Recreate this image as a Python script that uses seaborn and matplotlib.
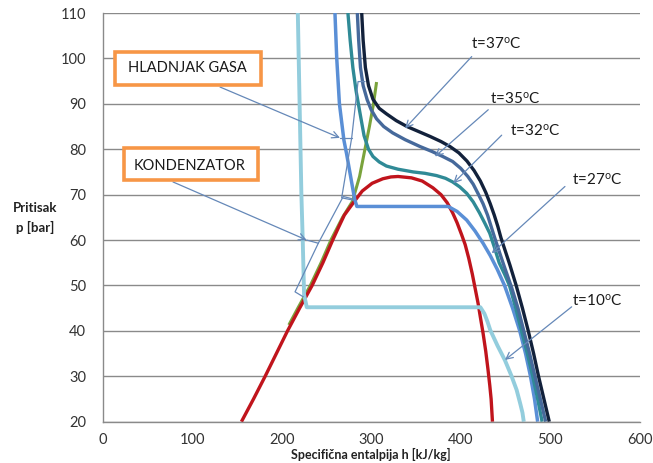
import matplotlib
matplotlib.use("Agg")
import matplotlib.pyplot as plt
import seaborn as sns
import pandas as pd
from matplotlib.patches import Rectangle

# ---------------- data ----------------
dome_h = [155, 168.5, 181.5, 194, 206.5, 220, 234, 246, 257, 264, 270, 277, 283, 290, 301, 313, 322, 330,
          345, 357, 369, 378, 385, 391, 396, 401, 405, 409, 413, 416.5, 419.5, 422, 425, 428, 430.5,
          432.5, 434, 435.5]
dome_p = [20, 25, 30, 35, 40, 45, 50, 55, 60, 63, 65.5, 67.4, 69, 70.8, 72.5, 73.5, 73.9, 74,
          73.7, 73, 71.5, 70, 68.2, 66, 63.8, 61.2, 59, 56, 52.5, 49, 46, 43, 39.5, 35.5, 31.5,
          28, 25, 20]

t10_h = [218, 219, 220, 221, 222, 223.5, 225, 228, 300, 380, 422, 426.5, 430, 433, 441, 449.5,
         456.5, 462.5, 466.5, 469, 470.5]
t10_p = [110, 100, 90, 80, 70, 60, 48, 45.2, 45.2, 45.2, 45.2, 43.8, 42, 40.2, 36.8, 33.5,
         30.2, 27, 24, 22, 20]

t27_h = [259.5, 261.5, 264.5, 269.5, 272.5, 277, 281.5, 284, 330, 386, 396, 406.7, 416, 425,
         433, 441, 449, 458, 466, 472.5, 478, 482.5, 486]
t27_p = [110, 100, 90, 82, 79, 74, 69, 67.4, 67.4, 67.4, 66.3, 64.4, 62, 59.3,
         56.6, 53.5, 50, 45, 40, 35, 30, 25, 20]

t32_h = [274, 276.5, 279.5, 283, 287, 292, 297, 302, 309, 317, 330, 347, 360, 373, 383, 391, 399,
         406.7, 414, 421, 427, 432.5, 437.5, 443, 449, 454.5, 461.5, 468, 474.5, 480.5, 486, 491]
t32_p = [110, 104, 98, 93, 88.5, 83, 80, 78.4, 77.2, 76.3, 75.6, 75, 74.7, 74.2, 73.6, 72.8, 71.7,
         70.3, 68.4, 66, 63.7, 61.5, 58.5, 55, 52.5, 50, 45, 40, 35, 30, 25, 20]

t35_h = [284.5, 286, 288, 291, 295.5, 300, 306, 314, 324, 338, 354.5, 368, 380, 391, 400, 408,
         414, 420, 425, 430, 434, 438, 443, 449, 457, 464, 470.5, 477, 483, 489, 495]
t35_p = [110, 104, 98, 94, 90.9, 88.7, 86.7, 85, 83.6, 82.1, 80.6, 79.5, 78.4, 77.3, 75.8, 74,
         72.3, 70, 68, 65.5, 63, 60.5, 57.5, 54, 49.5, 45, 40, 35, 30, 25, 20]

t37_h = [289.4, 291, 293.5, 297, 302, 309, 317, 328, 340, 353, 366, 378, 388, 398, 407, 415,
         422, 428, 433, 437.5, 441.5, 445, 450, 455, 462, 469, 475.5, 481.5, 487, 493, 499]
t37_p = [110, 104, 98, 94, 91, 89, 87.8, 86.3, 85, 83.9, 82.8, 81.7, 80.6, 79.2, 77.4, 75.3,
         73, 70.5, 68, 65.5, 63, 60.5, 57.5, 54.5, 50, 45, 40, 35, 30, 25, 20]

green_h = [208, 218, 232, 244, 255, 268, 279, 287, 293, 298, 302.4, 306]
green_p = [41.3, 45, 50, 55, 60, 65, 68.5, 74, 80, 85, 89.8, 94.8]

x_ticks = [0, 100, 200, 300, 400, 500, 600]
y_ticks = [20, 30, 40, 50, 60, 70, 80, 90, 100, 110]

temp_labels = ["t=37$^{\\mathrm{o}}$C", "t=35$^{\\mathrm{o}}$C", "t=32$^{\\mathrm{o}}$C",
               "t=27$^{\\mathrm{o}}$C", "t=10$^{\\mathrm{o}}$C"]
box_labels = ["HLADNJAK GASA", "KONDENZATOR"]

# ---------------- style ----------------
sns.set_theme(style="white")
plt.rcParams['font.family'] = ['Lato', 'DejaVu Sans']
plt.rcParams['mathtext.fontset'] = 'custom'
plt.rcParams['mathtext.rm'] = 'Lato'
plt.rcParams['mathtext.it'] = 'Lato:italic'
plt.rcParams['mathtext.bf'] = 'Lato:bold'

fig = plt.figure(figsize=(6.53, 4.63), dpi=100)
ax = fig.add_axes([0.1573, 0.0892, 0.8223, 0.8827])

series = [
    (green_h, green_p, "#7aa33c", 2.2),
    (dome_h, dome_p, "#c0141c", 2.4),
    (t10_h, t10_p, "#93cddd", 2.8),
    (t27_h, t27_p, "#5a8fd6", 2.5),
    (t32_h, t32_p, "#2f8a96", 2.4),
    (t35_h, t35_p, "#46699b", 2.4),
    (t37_h, t37_p, "#12213b", 2.4),
]
for hh, pp, col, lw in series:
    df = pd.DataFrame({"h": hh, "p": pp})
    sns.lineplot(data=df, x="h", y="p", sort=False, estimator=None, color=col,
                 lw=lw, ax=ax, legend=False, solid_joinstyle="round", solid_capstyle="butt")

ax.set_xlim(0, 600)
ax.set_ylim(20, 110)
ax.set_xticks(x_ticks)
ax.set_yticks(y_ticks)
ax.yaxis.grid(True, color="#8a8a8a", lw=1.0)
ax.xaxis.grid(False)
ax.set_axisbelow(True)
for s in ["top", "right"]:
    ax.spines[s].set_visible(False)
for s in ["left", "bottom"]:
    ax.spines[s].set_color("#8a8a8a")
    ax.spines[s].set_linewidth(1.0)
ax.tick_params(axis="both", which="major", direction="out", length=4, width=1,
               color="#8a8a8a", labelsize=10.5, labelcolor="#333333")
ax.tick_params(axis="x", pad=4)
ax.tick_params(axis="y", pad=8)
ax.set_xlabel("")
ax.set_ylabel("")

fig.text(0.568, 0.0185, "Specifična entalpija h [kJ/kg]", ha="center", va="center",
         fontsize=9, fontweight="bold", color="#222222")
fig.text(0.054, 0.551, "Pritisak", ha="center", va="center", fontsize=9.5,
         fontweight="bold", color="#222222")
fig.text(0.054, 0.508, "p [bar]", ha="center", va="center", fontsize=9.5,
         fontweight="bold", color="#222222")

# ---------------- annotations ----------------
acol = "#6588b8"
alw = 0.9

def arrow(x0, y0, x1, y1):
    ax.annotate("", xy=(x1, y1), xytext=(x0, y0),
                arrowprops=dict(arrowstyle="->", color=acol, lw=alw, mutation_scale=12,
                                shrinkA=0, shrinkB=0))

# temperature labels
tl_pos = [(412, 103.2), (432.7, 91.2), (455, 84.0), (524, 73.3), (524, 46.7)]
tl_arrows = [((412.3, 100.4), (337.8, 84.6)),
             ((430.8, 88.7), (371.3, 78.4)),
             ((445.8, 83.1), (391.7, 72.5)),
             ((516.5, 71.8), (434.7, 57.1)),
             ((524.0, 45.3), (449.5, 33.6))]
for lab, (tx, ty), (a0, a1) in zip(temp_labels, tl_pos, tl_arrows):
    ax.text(tx, ty, lab, fontsize=11, color="#1a1a1a", ha="left", va="center")
    arrow(a0[0], a0[1], a1[0], a1[1])

# boxes
boxes = [((13.8, 94.2), 163.1, 7.2, (95.0, 97.9)),
         ((23.8, 73.2), 149.7, 7.1, (97.0, 76.4))]
for lab, ((bx, by), bw, bh, (cx, cy)) in zip(box_labels, boxes):
    ax.add_patch(Rectangle((bx, by), bw, bh, facecolor="white", edgecolor="#f79646",
                           lw=2.6, zorder=5))
    ax.text(cx, cy, lab, fontsize=10.5, color="#1a1a1a", ha="center", va="center", zorder=6)

# bracket callouts
arrow(131.1, 93.7, 265.1, 82.5)
ax.plot([265.1, 278.2], [82.5, 82.5], color=acol, lw=alw)
ax.plot([293.1, 285.3, 278.2, 267.0, 279.7], [94.9, 94.9, 82.5, 69.3, 68.8], color=acol, lw=alw)

arrow(78.5, 72.8, 227.9, 60.0)
ax.plot([227.9, 240.9], [60.0, 59.3], color=acol, lw=alw)
ax.plot([278.5, 268.8, 240.9, 214.9, 224.1], [69.1, 69.6, 59.3, 48.6, 47.5], color=acol, lw=alw)

fig.savefig("out.png", dpi=100)
